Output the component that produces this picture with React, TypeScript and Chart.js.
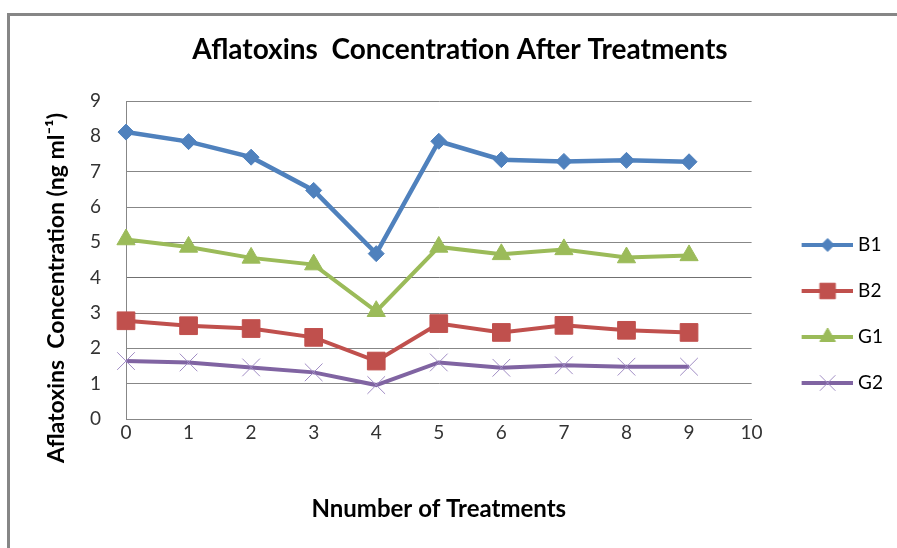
import React, { useEffect, useRef } from 'react';
import { Chart, registerables } from 'chart.js';
import { drawPoint } from 'chart.js/helpers';

Chart.register(...registerables);

// ---- data ----
const treatments = [0, 1, 2, 3, 4, 5, 6, 7, 8, 9];
const seriesNames = ['B1', 'B2', 'G1', 'G2'];
const b1 = [8.12, 7.85, 7.41, 6.47, 4.68, 7.86, 7.34, 7.29, 7.32, 7.28];
const b2 = [2.78, 2.64, 2.56, 2.31, 1.64, 2.70, 2.45, 2.65, 2.51, 2.45];
const g1 = [5.08, 4.87, 4.56, 4.37, 3.05, 4.87, 4.66, 4.80, 4.57, 4.63];
const g2 = [1.64, 1.60, 1.46, 1.32, 0.96, 1.60, 1.45, 1.52, 1.48, 1.48];
const xRange = [0, 10];
const yRange = [0, 9];

const chartTitle = 'Aflatoxins  Concentration After Treatments';
const xTitle = 'Nnumber of Treatments';
const yTitle = 'Aflatoxins  Concentration (ng ml\u207B\u00B9)';

// ---- styles ----
const FONT = 'Lato';
const styles = [
  { color: '#4F81BD', pointStyle: 'rectRot', radius: 8, legendRadius: 6.5, lineWidth: 4.5, pointBorder: '#4F81BD' },
  { color: '#C0504D', pointStyle: 'rect', radius: 12.5, legendRadius: 11, lineWidth: 4, pointBorder: '#C0504D' },
  { color: '#9BBB59', pointStyle: 'triangle', radius: 10.5, legendRadius: 9, lineWidth: 4, pointBorder: '#9BBB59' },
  { color: '#8064A2', pointStyle: 'crossRot', radius: 12.5, legendRadius: 11, lineWidth: 4, pointBorder: '#A08CC4' },
];
const PAD_L = 27;
const PAD_R = 4;
const PLOT_LEFT = 126;
const X_AXIS_H = 129;
const GRID = '#878787';

export default function App() {
  const ref = useRef<HTMLCanvasElement>(null);

  useEffect(() => {
    let chart: Chart | null = null;
    let cancelled = false;

    const make = () => {
      if (cancelled || !ref.current) return;
      const icons = styles.map((s) => {
        const c = document.createElement('canvas');
        c.width = 78;
        c.height = 24;
        const g = c.getContext('2d')!;
        g.strokeStyle = s.color;
        g.lineWidth = 4;
        g.beginPath();
        g.moveTo(27, 12);
        g.lineTo(78, 12);
        g.stroke();
        g.fillStyle = s.color;
        g.strokeStyle = s.pointBorder;
        g.lineWidth = 1;
        drawPoint(g, { pointStyle: s.pointStyle as any, radius: s.legendRadius, rotation: 0, borderWidth: 1 }, 53, 12);
        return c;
      });

      const series = [b1, b2, g1, g2];
      const datasets = series.map((vals, i) => ({
        label: seriesNames[i],
        data: treatments.map((t, j) => ({ x: t, y: vals[j] })),
        borderColor: styles[i].color,
        backgroundColor: styles[i].color,
        borderWidth: styles[i].lineWidth,
        pointStyle: styles[i].pointStyle as any,
        pointRadius: styles[i].radius,
        pointBackgroundColor: styles[i].color,
        pointBorderColor: styles[i].pointBorder,
        pointBorderWidth: 1,
        tension: 0,
        clip: false as any,
      }));

      chart = new Chart(ref.current, {
        type: 'line',
        data: { datasets },
        options: {
          responsive: false,
          animation: false,
          events: [],
          layout: { padding: { left: PAD_L, right: PAD_R, top: 0, bottom: 0 } },
          plugins: {
            title: {
              display: true,
              text: chartTitle,
              color: '#000',
              font: { family: FONT, size: 28, weight: 'bold' },
              padding: { top: 33.2, bottom: 34.2 },
            },
            legend: {
              position: 'right',
              title: { display: true, text: '', padding: { top: 65.6, bottom: 0 } },
              labels: {
                usePointStyle: true,
                pointStyleWidth: 70,
                padding: 27,
                color: '#000',
                font: { family: FONT, size: 19 },
                generateLabels: (ch: any) =>
                  Chart.defaults.plugins.legend.labels.generateLabels(ch).map((it: any, i: number) => ({
                    ...it,
                    pointStyle: icons[i],
                  })),
              },
            },
            tooltip: { enabled: false },
          },
          scales: {
            x: {
              type: 'linear',
              min: xRange[0],
              max: xRange[1],
              ticks: { stepSize: 1, padding: 2, color: '#333', font: { family: FONT, size: 19 } },
              grid: { display: false, drawTicks: false },
              border: { color: GRID, width: 1 },
              title: {
                display: true,
                text: xTitle,
                color: '#000',
                font: { family: FONT, size: 24, weight: 'bold' },
                padding: { top: 0, bottom: 24.6 },
              },
              afterFit: (s: any) => {
                s.height = X_AXIS_H;
              },
            },
            y: {
              min: yRange[0],
              max: yRange[1],
              ticks: { stepSize: 1, padding: 25, color: '#333', font: { family: FONT, size: 19 } },
              grid: {
                drawTicks: false,
                color: (c: any) => (c.tick && c.tick.value === 8 ? 'rgba(0,0,0,0)' : c.tick && c.tick.value === 4 ? '#707070' : GRID),
              },
              border: { color: GRID, width: 1 },
              title: {
                display: true,
                text: yTitle + '\u00A0'.repeat(10),
                color: '#000',
                font: { family: FONT, size: 23, weight: 'bold' },
                padding: { top: 15.7, bottom: 0 },
              },
              afterFit: (s: any) => {
                s.width = PLOT_LEFT - PAD_L;
              },
            },
          },
        },
      });
    };

    const fonts = (document as any).fonts;
    if (fonts && fonts.load) {
      Promise.all([fonts.load(`bold 26px ${FONT}`), fonts.load(`19px ${FONT}`)]).then(make, make);
    } else {
      make();
    }
    return () => {
      cancelled = true;
      if (chart) chart.destroy();
    };
  }, []);

  return (
    <div
      style={{
        position: 'absolute',
        left: 0,
        top: 0,
        width: 897,
        height: 548,
        overflow: 'hidden',
        background: '#fff',
      }}
    >
      <div
        style={{
          position: 'absolute',
          left: 7,
          top: 13,
          width: 1000,
          height: 1000,
          borderTop: '3px solid #868686',
          borderLeft: '3px solid #868686',
        }}
      />
      <canvas ref={ref} width={897} height={548} style={{ position: 'absolute', left: 0, top: 0, width: 897, height: 548 }} />
    </div>
  );
}
